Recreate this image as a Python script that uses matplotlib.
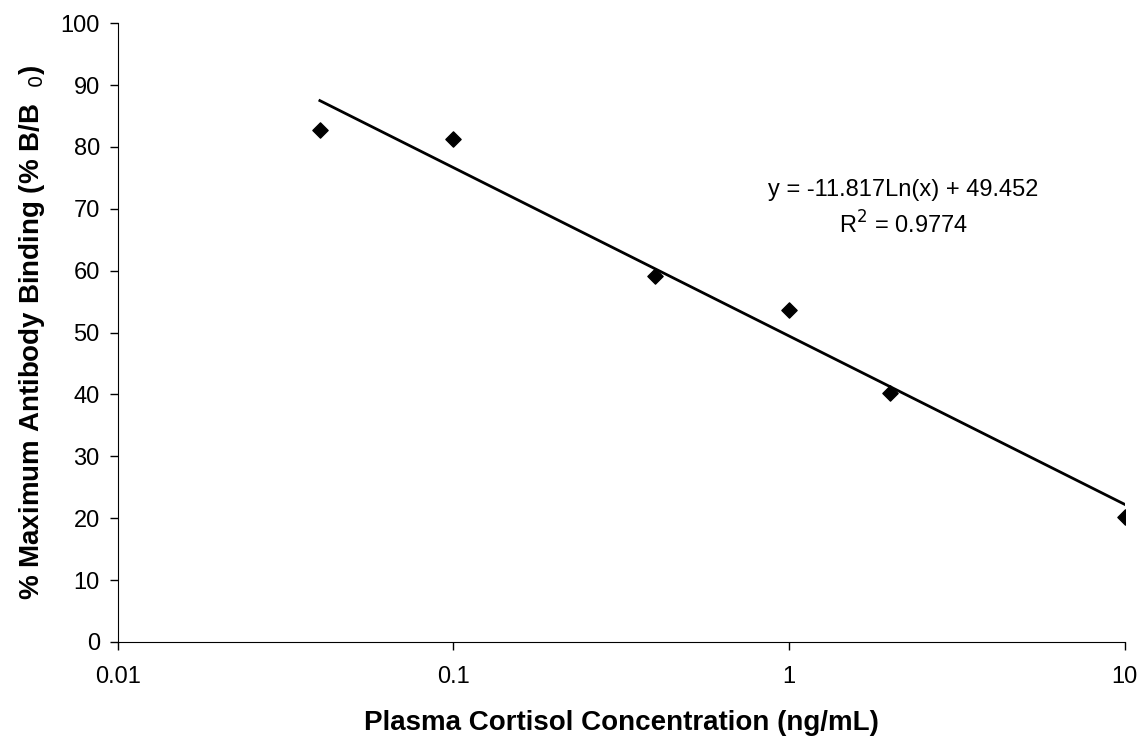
import numpy as np
import matplotlib
matplotlib.use("Agg")
import matplotlib.pyplot as plt

conc = [0.04, 0.1, 0.4, 1, 2, 10]
binding = [82.8, 81.3, 59.2, 53.7, 40.2, 20.2]
slope = -11.817
intercept = 49.452
r2 = 0.9774
xticks = [0.01, 0.1, 1, 10]
xticklabels = ["0.01", "0.1", "1", "10"]

plt.rcParams['font.family'] = ['Liberation Sans', 'DejaVu Sans']
fig = plt.figure(figsize=(11.44, 7.49), dpi=100)
ax = fig.add_axes([0.103, 0.143, 0.880, 0.826])

xs = np.logspace(np.log10(min(conc)), np.log10(max(conc)), 200)
ax.plot(xs, slope * np.log(xs) + intercept, color='black', lw=2)
ax.scatter(conc, binding, marker='D', s=60, color='black', zorder=3)

ax.set_xscale('log')
ax.set_xlim(0.01, 10)
ax.set_ylim(0, 100)
ax.set_xticks(xticks)
ax.set_xticklabels(xticklabels)
ax.minorticks_off()
ax.set_yticks(range(0, 101, 10))
ax.tick_params(direction='out', length=6, width=1, labelsize=17, pad=7)
ax.tick_params(axis='x', pad=11)
for s in ['top', 'right']:
    ax.spines[s].set_visible(False)

ax.set_xlabel('Plasma Cortisol Concentration (ng/mL)', fontsize=20,
              fontweight='bold', labelpad=16)
ax.set_ylabel('% Maximum Antibody Binding (% B/B  $_0$)', fontsize=20,
              fontweight='bold', labelpad=10)

ax.text(0.78, 0.70, f'y = {slope}Ln(x) + {intercept}\nR$^2$ = {r2}',
        transform=ax.transAxes, ha='center', va='center', fontsize=17,
        linespacing=1.45, multialignment='center')

fig.savefig('out.png', dpi=100)
